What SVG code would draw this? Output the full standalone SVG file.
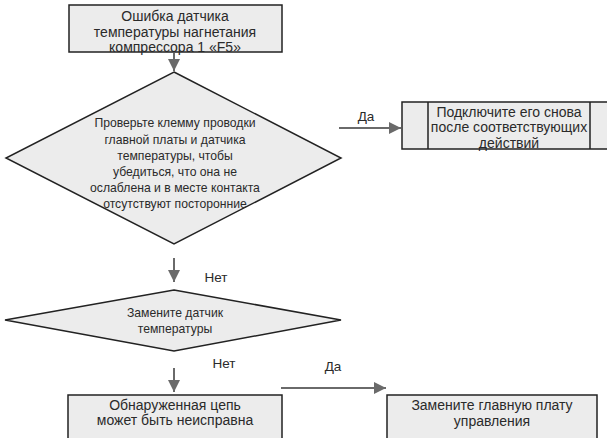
<svg xmlns="http://www.w3.org/2000/svg" width="607" height="438" viewBox="0 0 607 438">
<style>
.box{fill:#ececec;stroke:#222;stroke-width:1.5}
.t{font-family:"Liberation Sans",Arial,sans-serif;fill:#2a2a2a;text-anchor:middle}
.b{font-size:14px}
.d{font-size:12.2px}
.lbl{font-family:"Liberation Sans",Arial,sans-serif;fill:#2a2a2a;font-size:13.5px}
.ar{stroke:#6a6a6a;stroke-width:2;fill:none;marker-end:url(#ah)}
</style>
<defs>
<marker id="ah" markerUnits="userSpaceOnUse" markerWidth="14" markerHeight="14" refX="12" refY="6" orient="auto">
<path d="M0,0 L12,6 L0,12 z" fill="#6a6a6a"/>
</marker>
</defs>
<rect width="607" height="438" fill="#fff"/>
<g id="connectors">
<line class="ar" x1="174" y1="53" x2="174" y2="71"/>
<line class="ar" x1="339" y1="128" x2="401" y2="128"/>
<line class="ar" x1="174" y1="258" x2="174" y2="282"/>
<line class="ar" x1="174" y1="368" x2="174" y2="392"/>
<line class="ar" x1="281" y1="388" x2="386" y2="388"/>
<text class="lbl" x="366" y="121" text-anchor="middle">Да</text>
<text class="lbl" x="216" y="282" text-anchor="middle">Нет</text>
<text class="lbl" x="224" y="368" text-anchor="middle">Нет</text>
<text class="lbl" x="333" y="371" text-anchor="middle">Да</text>
</g>
<g id="n1">
<rect class="box" x="69" y="5" width="213" height="47"/>
<text class="t b" x="175" y="21">Ошибка датчика</text>
<text class="t b" x="175" y="37">температуры нагнетания</text>
<text class="t b" x="175" y="52">компрессора 1 «F5»</text>
</g>
<g id="n2">
<polygon class="box" points="174,72 341,158 174,244 6,158"/>
<text class="t d" x="175" y="127">Проверьте клемму проводки</text>
<text class="t d" x="175" y="144">главной платы и датчика</text>
<text class="t d" x="175" y="160">температуры, чтобы</text>
<text class="t d" x="175" y="176">убедиться, что она не</text>
<text class="t d" x="175" y="192">ослаблена и в месте контакта</text>
<text class="t d" x="175" y="208">отсутствуют посторонние</text>
</g>
<g id="n3">
<rect class="box" x="402" y="102" width="212" height="47"/>
<line x1="428" y1="102" x2="428" y2="149" stroke="#222" stroke-width="1.5"/>
<line x1="590" y1="102" x2="590" y2="149" stroke="#222" stroke-width="1.5"/>
<text class="t b" x="509" y="117">Подключите его снова</text>
<text class="t b" x="509" y="132">после соответствующих</text>
<text class="t b" x="509" y="148">действий</text>
</g>
<g id="n4">
<polygon class="box" points="174,290 341,320 174,351 5,320"/>
<text class="t d" x="175" y="317">Замените датчик</text>
<text class="t d" x="175" y="333">температуры</text>
</g>
<g id="n5">
<rect class="box" x="68" y="395" width="214" height="50"/>
<text class="t b" x="175" y="410">Обнаруженная цепь</text>
<text class="t b" x="175" y="425">может быть неисправна</text>
</g>
<g id="n6">
<rect class="box" x="387" y="395" width="210" height="50"/>
<text class="t b" x="492" y="410">Замените главную плату</text>
<text class="t b" x="492" y="426">управления</text>
</g>
</svg>
